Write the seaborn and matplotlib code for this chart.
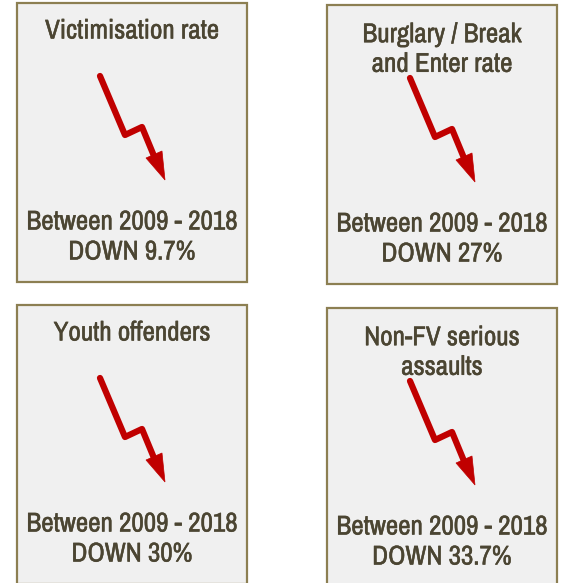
import matplotlib
matplotlib.use("Agg")
import matplotlib.pyplot as plt
import matplotlib.patheffects as pe
import seaborn as sns
from matplotlib.patches import Rectangle, Polygon

# Panel content
titles = ["Victimisation rate", "Burglary / Break\nand Enter rate",
          "Youth offenders", "Non-FV serious\nassaults"]
periods = ["Between 2009 - 2018"] * 4
changes = [9.7, 27, 30, 33.7]

# layout (pixels): panel top-left corners
panel_x = [17, 327, 17, 327]
panel_y = [3, 5, 305, 308]
PANEL_W, PANEL_H = 230, 279

# zigzag arrow shape relative to panel corner
shaft_x = [83, 108, 125, 137]
shaft_y = [73, 132, 124, 153]
head_x = [129, 145, 148]
head_y = [155, 148, 177]

sns.set_theme(style="white")
plt.rcParams['font.family'] = ['Archivo Narrow', 'DejaVu Sans']

TEXT = '#4b4532'
BORDER = '#8c7f52'
FILL = '#f0f0f0'
RED = '#c00000'
# slight stroke to mimic the heavier original face
bold = [pe.withStroke(linewidth=0.35, foreground=TEXT)]

fig = plt.figure(figsize=(5.61, 5.83), dpi=100)
ax = fig.add_axes([0, 0, 1, 1])
ax.set_xlim(0, 561)
ax.set_ylim(583, 0)
ax.axis('off')

for i in range(4):
    x0, y0 = panel_x[i], panel_y[i]
    ax.add_patch(Rectangle((x0, y0), PANEL_W, PANEL_H, facecolor=FILL,
                           edgecolor=BORDER, linewidth=1.6))
    cx = x0 + PANEL_W / 2
    n_lines = titles[i].count('\n') + 1
    ax.text(cx, y0 + 28 + (n_lines - 1) * 16.5, titles[i], ha='center', va='center',
            fontsize=19.5, color=TEXT, linespacing=1.23, path_effects=bold)
    ax.text(cx, y0 + 234, f"{periods[i]}\nDOWN {changes[i]:g}%", ha='center',
            va='center', fontsize=19.5, color=TEXT, linespacing=1.25, path_effects=bold)
    sns.lineplot(x=[x0 + v for v in shaft_x], y=[y0 + v for v in shaft_y],
                 sort=False, estimator=None, color=RED, linewidth=4.5, ax=ax)
    ax.add_patch(Polygon(list(zip([x0 + v for v in head_x], [y0 + v for v in head_y])),
                         closed=True, facecolor=RED, edgecolor=RED, linewidth=0.5))

fig.savefig("out.png", dpi=100)
